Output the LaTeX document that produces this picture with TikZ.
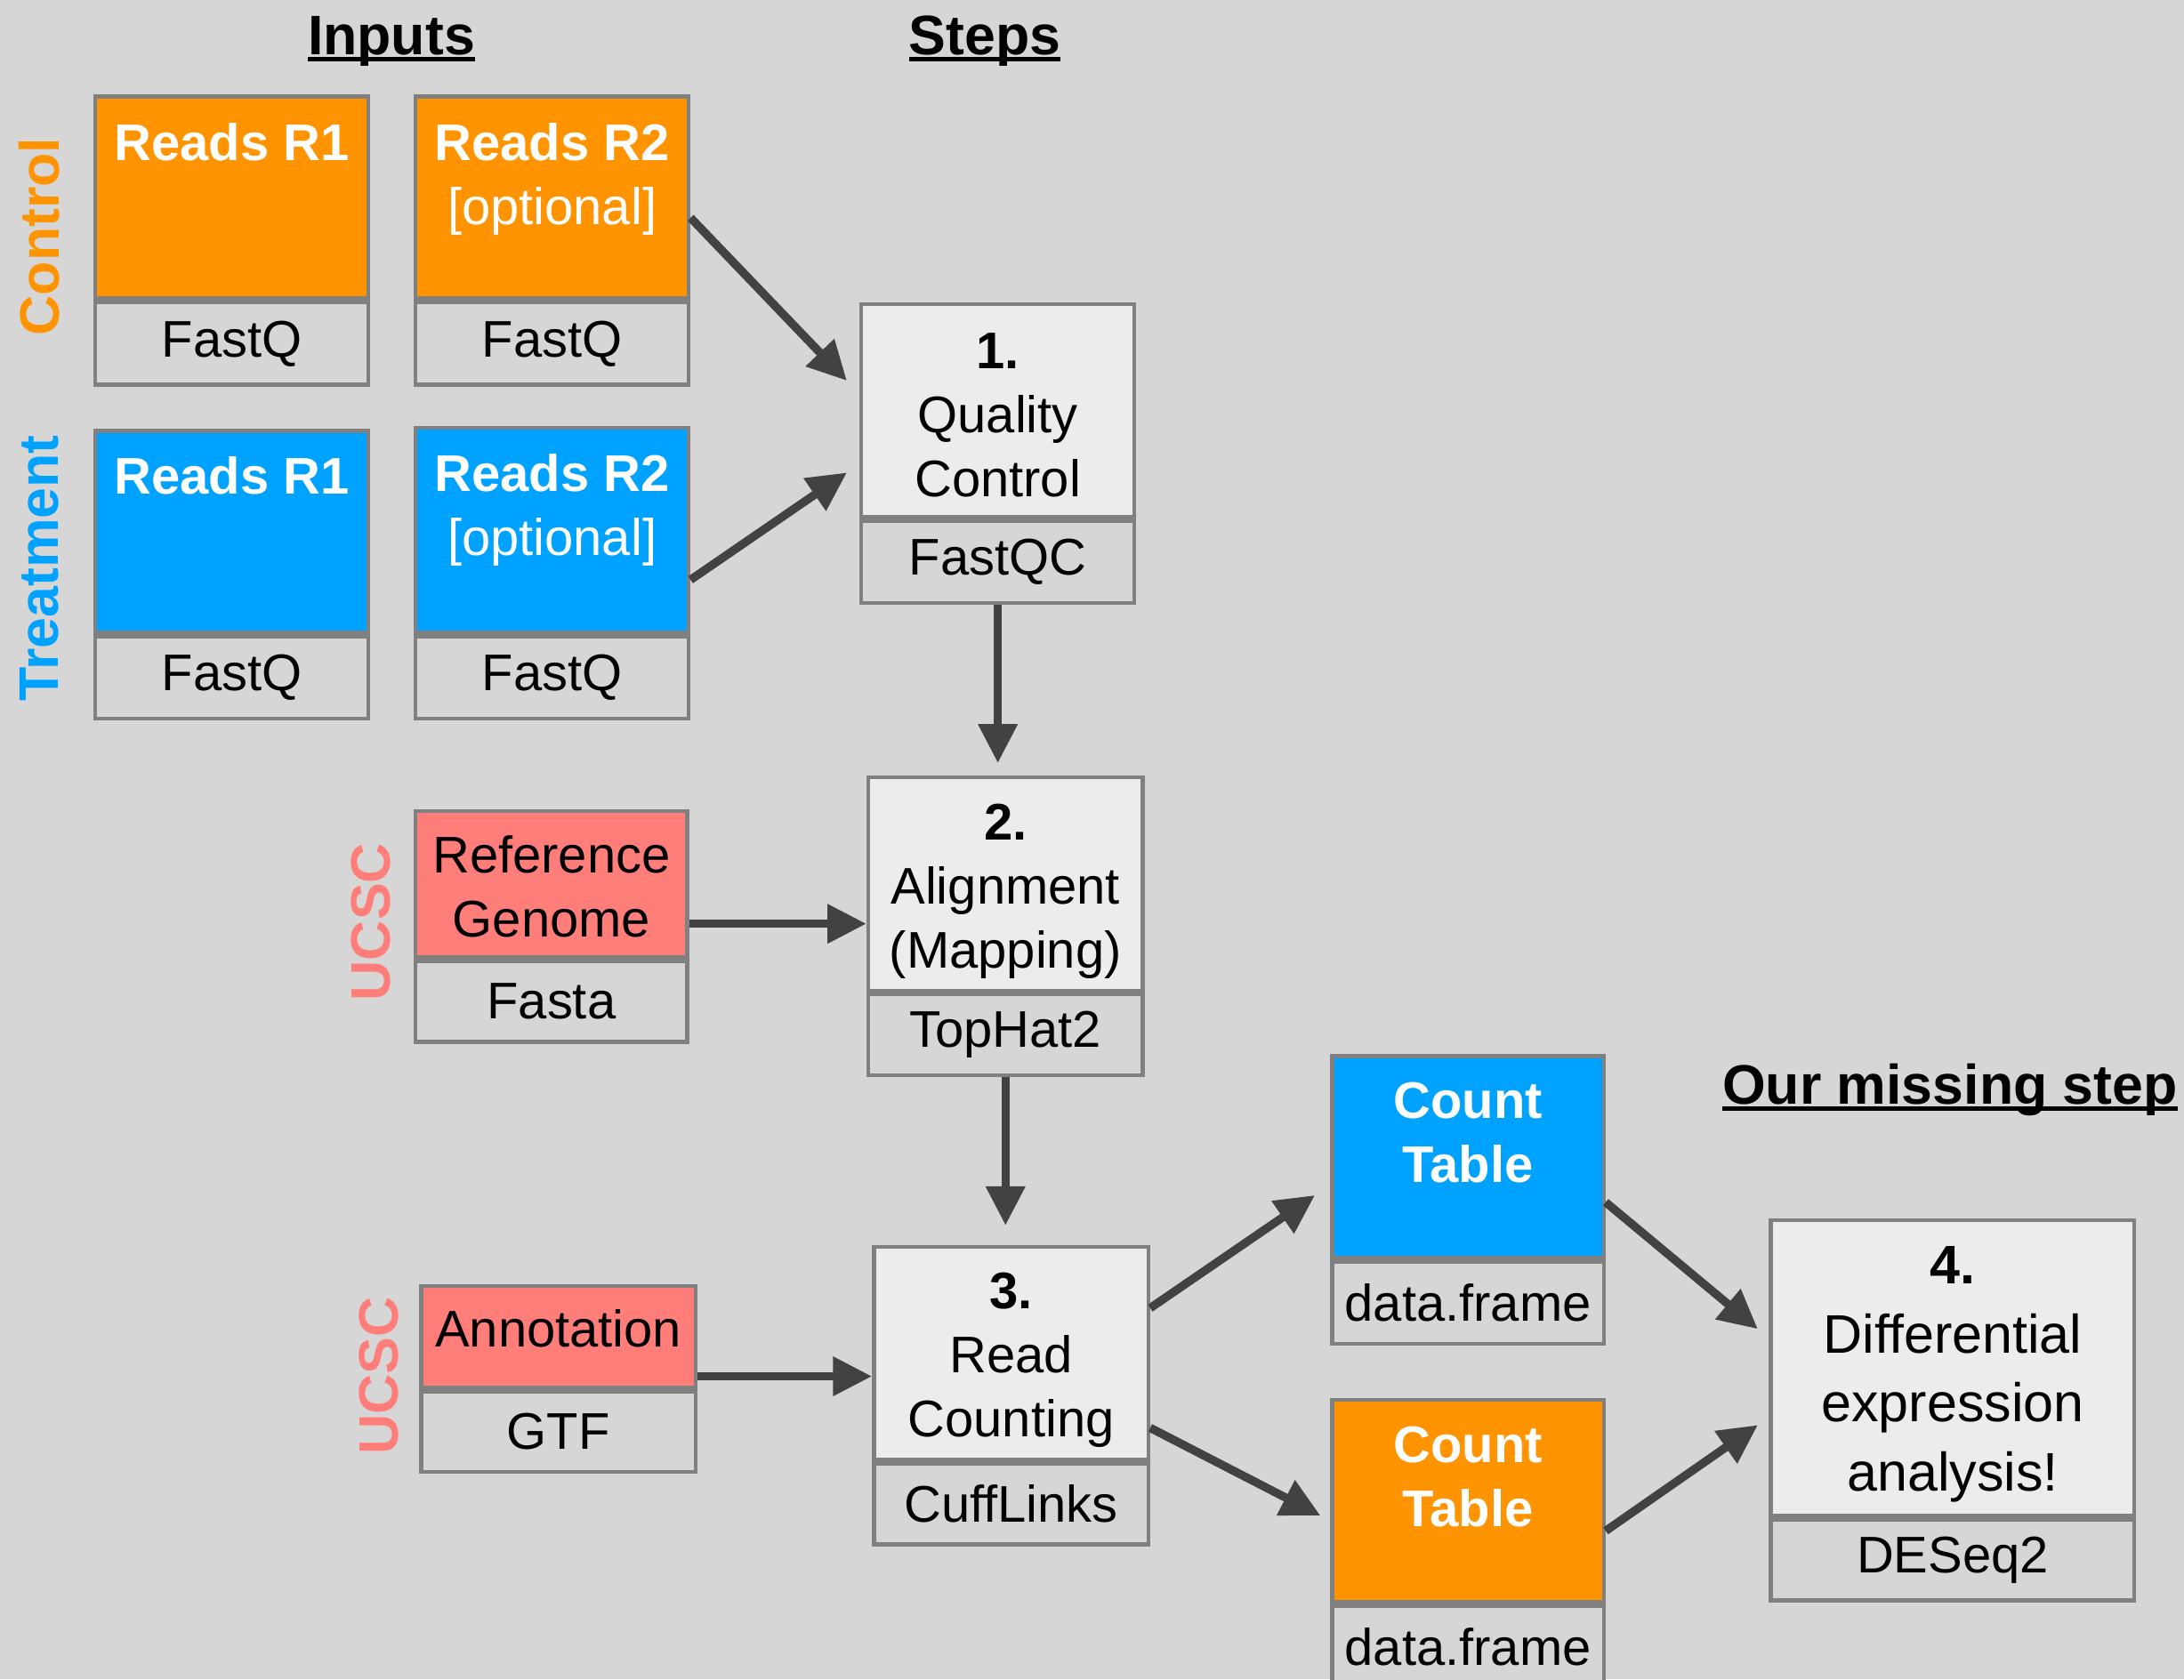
\documentclass[tikz,border=0pt]{standalone}
\usepackage{fontspec}
\setmainfont{Liberation Sans}
\usetikzlibrary{arrows.meta,positioning,calc}
\definecolor{ctrlorange}{RGB}{255,147,0}
\definecolor{treatblue}{RGB}{0,162,255}
\definecolor{ucscred}{RGB}{255,126,121}
\definecolor{bggray}{RGB}{214,214,214}
\definecolor{stepgray}{RGB}{236,236,236}
\definecolor{edgegray}{RGB}{128,128,128}
\definecolor{arrowgray}{RGB}{66,66,66}

\newcommand{\headline}[1]{\setbox0\hbox{#1}\rlap{\rule[-4.5pt]{\wd0}{3pt}}\box0}

\tikzset{
  part/.style={draw=edgegray, line width=2.8pt, inner sep=0pt, anchor=north west},
  tool/.style={draw=edgegray, line width=2.8pt, fill=bggray, inner sep=0pt, anchor=north,
    font=\fontsize{37}{46}\selectfont},
  toplab/.style={anchor=north, inner sep=0pt, align=center, yshift=-20pt,
    font=\fontsize{37}{46}\selectfont},
  sidelab/.style={rotate=90, inner sep=0pt, font=\fontsize{40}{48}\selectfont\bfseries},
  heading/.style={anchor=base, inner sep=0pt, font=\fontsize{40}{48}\selectfont\bfseries},
  arr/.style={draw=arrowgray, line width=6pt, -{Triangle[length=28pt,width=27pt]}},
}

\begin{document}
\begin{tikzpicture}[x=1pt, y=-1pt]
    \fill[bggray] (0,0) rectangle (1568,1206);
    \useasboundingbox (0,0) rectangle (1568,1206);

    % Headings
    \node[heading] (inputs) at (281,39.5) {\headline{Inputs}};
    \node[heading] (steps) at (707,39.5) {\headline{Steps}};
    \node[heading] (missing) at (1400,793) {\headline{Our missing step}};

    % Side labels
    \node[sidelab, text=ctrlorange] (ctrl) at (28,170) {Control};
    \node[sidelab, text=treatblue] (treat) at (28,408) {Treatment};
    \node[sidelab, text=ucscred] (ucsc1) at (266,662) {UCSC};
    \node[sidelab, text=ucscred] (ucsc2) at (272,988) {UCSC};

    % Read inputs
    \foreach \n/\x/\y/\h/\c/\t in {cr1/67/68/145/ctrlorange/{\textbf{Reads R1}},
        cr2/297/68/145/ctrlorange/{\textbf{Reads R2}\\{}[optional]},
        tr1/67/308/145/treatblue/{\textbf{Reads R1}},
        tr2/297/306/147/treatblue/{\textbf{Reads R2}\\{}[optional]}} {
        \node[part, fill=\c, minimum width=196pt, minimum height=\h pt] (\n) at (\x,\y) {};
        \node[toplab, text=white] (\n-l) at (\n.north) {\t};
        \node[tool, minimum width=196pt, minimum height=59pt] (\n-f) at (\n.south) {FastQ};
    }

    % Reference inputs
    \node[part, fill=ucscred, minimum width=195pt, minimum height=105pt] (refg) at (297,581) {};
    \node[toplab, yshift=1pt] (refg-l) at (refg.north) {Reference\\Genome};
    \node[tool, minimum width=195pt, minimum height=58pt] (refg-f) at (refg.south) {Fasta};

    \node[part, fill=ucscred, minimum width=197pt, minimum height=73pt] (annot) at (301,922) {};
    \node[toplab, yshift=2pt] (annot-l) at (annot.north) {Annotation};
    \node[tool, minimum width=197pt, minimum height=58pt] (annot-f) at (annot.south) {GTF};

    % Steps
    \node[part, fill=stepgray, minimum width=196pt, minimum height=153pt] (qc) at (617,217) {};
    \node[toplab, yshift=-2pt] (qc-l) at (qc.north) {\textbf{1.}\\Quality\\Control};
    \node[tool, minimum width=196pt, minimum height=59pt] (qc-f) at (qc.south) {FastQC};

    \node[part, fill=stepgray, minimum width=197pt, minimum height=153pt] (aln) at (622,557) {};
    \node[toplab] (aln-l) at (aln.north) {\textbf{2.}\\Alignment\\(Mapping)};
    \node[tool, minimum width=197pt, minimum height=58pt] (aln-f) at (aln.south) {TopHat2};

    \node[part, fill=stepgray, minimum width=197pt, minimum height=153pt] (cnt) at (626,894) {};
    \node[toplab] (cnt-l) at (cnt.north) {\textbf{3.}\\Read\\Counting};
    \node[tool, minimum width=197pt, minimum height=58pt] (cnt-f) at (cnt.south) {CuffLinks};

    % Count tables
    \foreach \n/\y/\c in {ctb/757/treatblue, cto/1004/ctrlorange} {
        \node[part, fill=\c, minimum width=195pt, minimum height=145pt] (\n) at (955,\y) {};
        \node[toplab, text=white, font=\fontsize{37}{46}\selectfont\bfseries] (\n-l) at (\n.north) {Count\\Table};
        \node[tool, minimum width=195pt, minimum height=59pt] (\n-f) at (\n.south) {data.frame};
    }

    \node[part, fill=stepgray, minimum width=261pt, minimum height=212pt] (deseq) at (1270,875) {};
    \node[toplab, font=\fontsize{39}{49.5}\selectfont] (deseq-l) at (deseq.north) {\textbf{4.}\\Differential\\expression\\analysis!};
    \node[tool, minimum width=261pt, minimum height=58pt] (deseq-f) at (deseq.south) {DESeq2};

    % Arrows
    \draw[arr] ([yshift=-14.5pt]cr2.east) -- ([shift={(-9pt,21.5pt)}]qc.west);
    \draw[arr] ([yshift=-35.5pt]tr2.east) -- ([shift={(-9pt,-44.5pt)}]qc.west);
    \draw[arr] (qc-f.south) -- ($(qc-f.south |- aln.north)+(0,-9)$);
    \draw[arr] ([yshift=-28.5pt]refg.east) -- ([yshift=-28.5pt]aln.west);
    \draw[arr] (aln-f.south) -- ($(aln-f.south |- cnt.north)+(0,-14)$);
    \draw[arr] ([yshift=-28.5pt]annot.east) -- ([yshift=-16.5pt]cnt.west);
    \draw[arr] ([yshift=32.5pt]cnt.east) -- ([shift={(-11pt,-27.5pt)}]ctb.west);
    \draw[arr] ([yshift=-53.5pt]cnt.east) -- ([shift={(-7pt,-10.5pt)}]cto.west);
    \draw[arr] ([yshift=-32.5pt]ctb.east) -- ([shift={(-8pt,28pt)}]deseq.west);
    \draw[arr] ([yshift=-21.5pt]cto.east) -- ([shift={(-8pt,-41pt)}]deseq.west);
\end{tikzpicture}
\end{document}
